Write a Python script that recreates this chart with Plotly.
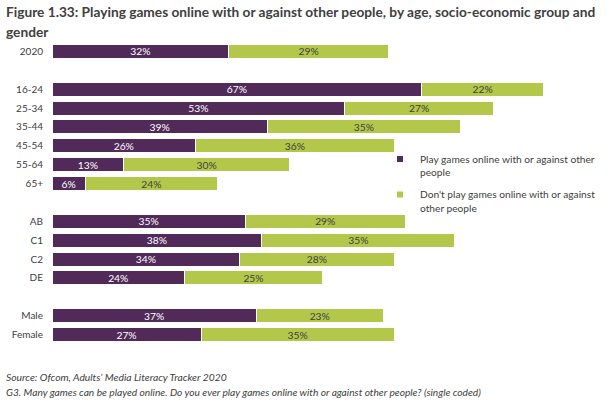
import plotly.graph_objects as go

categories = ["2020", "16-24", "25-34", "35-44", "45-54", "55-64", "65+",
              "AB", "C1", "C2", "DE", "Male", "Female"]
positions = [0, 2, 3, 4, 5, 6, 7, 9, 10, 11, 12, 14, 15]
play = [32, 67, 53, 39, 26, 13, 6, 35, 38, 34, 24, 37, 27]
dont_play = [29, 22, 27, 35, 36, 30, 24, 29, 35, 28, 25, 23, 35]
series_names = ["Play games online with or against other<br>people",
                "Don't play games online with or against<br>other people"]

PURPLE = "#522A5A"
GREEN = "#B3C84A"
TXT = "#404040"
FONT = "Lato"

fig = go.Figure()
fig.add_trace(go.Bar(
    y=positions, x=play, orientation="h", width=0.74,
    name=series_names[0], showlegend=False,
    marker=dict(color=PURPLE, line=dict(color="white", width=1)),
    text=[f"{v}%" for v in play], textposition="inside", insidetextanchor="middle",
    textfont=dict(color="white", size=10.3, family=FONT),
    hoverinfo="skip",
))
fig.add_trace(go.Bar(
    y=positions, x=dont_play, orientation="h", width=0.74,
    name=series_names[1], showlegend=False,
    marker=dict(color=GREEN, line=dict(color="white", width=1)),
    text=[f"{v}%" for v in dont_play], textposition="inside", insidetextanchor="middle",
    textfont=dict(color=TXT, size=10.3, family=FONT),
    hoverinfo="skip",
))
# legend entries with small square markers
for nm, col, grp in [(series_names[0], PURPLE, "a"), (series_names[1], GREEN, "b")]:
    fig.add_trace(go.Scatter(
        x=[None], y=[None], mode="markers", name=nm, legendgroup=grp,
        marker=dict(symbol="square", size=6, color=col), showlegend=True,
    ))

PH = 302.5
PW = 552
fig.update_layout(
    width=612, height=410,
    template="none",
    barmode="stack",
    paper_bgcolor="white", plot_bgcolor="white",
    margin=dict(l=52, r=8, t=42, b=65.5, autoexpand=False),
    font=dict(family=FONT, color=TXT, size=10),
    uniformtext=dict(minsize=8, mode="show"),
    xaxis=dict(range=[0, 100], visible=False, fixedrange=True),
    yaxis=dict(range=[15.5, -0.5], tickmode="array", tickvals=positions,
               ticktext=categories, showgrid=False, zeroline=False,
               showline=False, ticks="", ticklabelstandoff=8, automargin=False,
               tickfont=dict(size=10, color=TXT, family=FONT)),
    legend=dict(x=(380 - 52) / PW, y=1 - (146 - 42) / PH, xanchor="left", yanchor="top",
                font=dict(size=10.2, color=TXT, family=FONT),
                bgcolor="rgba(0,0,0,0)", traceorder="grouped", valign="top",
                itemwidth=30, tracegroupgap=6),
    showlegend=True,
    annotations=[
        dict(text="<b>Figure 1.33: Playing games online with or against other people, by age, socio-economic group and</b>",
             xref="paper", yref="paper", x=-48/PW, y=1 + 31/PH, xanchor="left", yanchor="middle",
             showarrow=False, font=dict(size=13.7, color=TXT, family=FONT)),
        dict(text="<b>gender</b>",
             xref="paper", yref="paper", x=-48/PW, y=1 + 11/PH, xanchor="left", yanchor="middle",
             showarrow=False, font=dict(size=13.7, color=TXT, family=FONT)),
        dict(text="<i>Source: Ofcom, Adults’ Media Literacy Tracker 2020</i>",
             xref="paper", yref="paper", x=-48/PW, y=-33.5/PH, xanchor="left", yanchor="middle",
             showarrow=False, font=dict(size=10.3, color=TXT, family=FONT)),
        dict(text="<i>G3. Many games can be played online. Do you ever play games online with or against other people? (single coded)</i>",
             xref="paper", yref="paper", x=-48/PW, y=-48.5/PH, xanchor="left", yanchor="middle",
             showarrow=False, font=dict(size=10.2, color=TXT, family=FONT)),
    ],
)

fig.write_html("out.html", config={"displayModeBar": False},
               post_script="document.body.style.margin='0px';")
